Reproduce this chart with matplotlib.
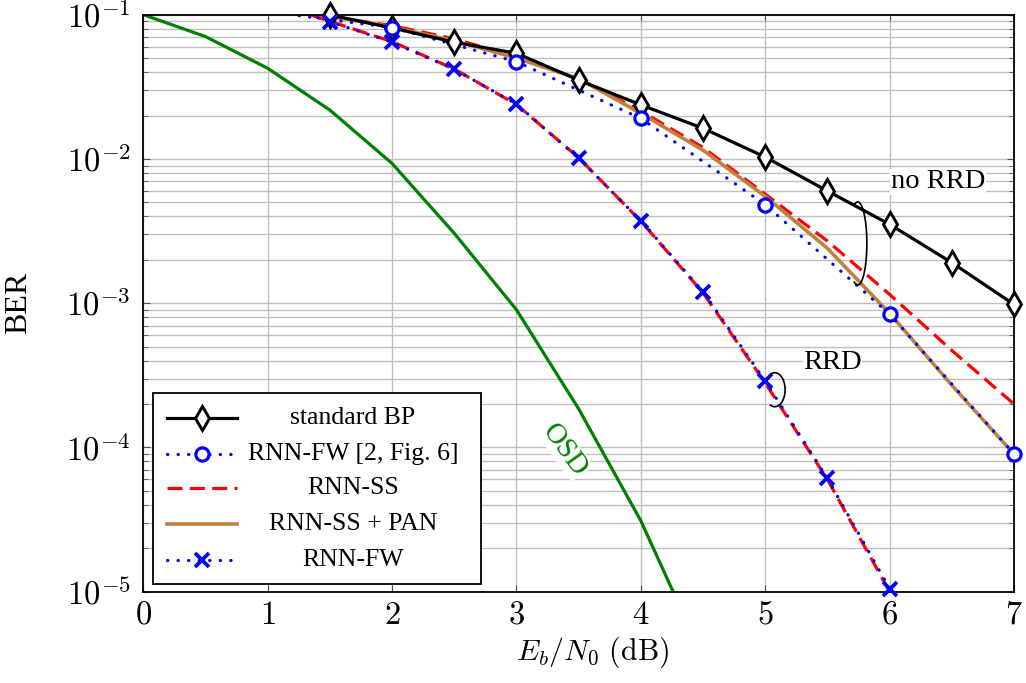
import numpy as np
import matplotlib
matplotlib.use('Agg')
import matplotlib.pyplot as plt
from matplotlib.patches import Rectangle
from matplotlib.lines import Line2D
from matplotlib.ticker import FuncFormatter, LogLocator, NullFormatter

plt.rcParams['font.family'] = ['Liberation Serif', 'DejaVu Serif']
plt.rcParams['mathtext.fontset'] = 'cm'

# ---- data (BER vs Eb/N0) ----
ebn0_bp = [1.5, 2, 2.5, 3, 3.5, 4, 4.5, 5, 5.5, 6, 6.5, 7]
ber_bp = [0.0995, 0.081, 0.0644, 0.054, 0.0352, 0.0237, 0.0163, 0.0103, 0.0060, 0.00352, 0.00191, 0.00098]

ebn0_fw_ref = [1, 2, 3, 4, 5, 6, 7]
ber_fw_ref = [0.105, 0.0813, 0.0472, 0.0191, 0.00482, 0.00084, 9.0e-5]

ebn0_ss = [1, 1.5, 2, 2.5, 3, 3.5, 4, 4.5, 5, 5.5, 6, 6.5, 7]
ber_ss = [0.12, 0.097, 0.084, 0.068, 0.051, 0.036, 0.0215, 0.012, 0.0057, 0.0027, 0.00115, 0.00047, 0.0002]

ebn0_pan = [1, 1.5, 2, 2.5, 3, 3.5, 4, 4.5, 5, 5.5, 6, 6.5, 7]
ber_pan = [0.115, 0.098, 0.082, 0.066, 0.050, 0.036, 0.0207, 0.0115, 0.0055, 0.0024, 0.00085, 0.00027, 9.0e-5]

ebn0_fw = [1, 1.5, 2, 2.5, 3, 3.5, 4, 4.5, 5, 5.5, 6]
ber_fw = [0.124, 0.0894, 0.0644, 0.0418, 0.0240, 0.0101, 0.00373, 0.0012, 2.89e-4, 6.1e-5, 1.05e-5]

ebn0_ss_rrd = [1, 1.5, 2, 2.5, 3, 3.5, 4, 4.5, 5, 5.5, 6]
ber_ss_rrd = [0.125, 0.090, 0.065, 0.042, 0.0238, 0.0102, 0.0037, 0.00118, 2.8e-4, 6.0e-5, 1.0e-5]

ebn0_osd = [0, 0.5, 1, 1.5, 2, 2.5, 3, 3.5, 4, 4.5]
ber_osd = [0.1, 0.0705, 0.0425, 0.0218, 0.0093, 0.00305, 9.0e-4, 1.85e-4, 3.1e-5, 3.5e-6]

blue = '#0000ff'
red = '#ff0000'
brown = '#bf8040'
green = '#008000'
dots = (0, (0.1, 3.2))
dashes = (0, (4.7, 2.3))
LW = 2.3

fig = plt.figure(figsize=(10.26, 6.83), dpi=100)
ax = fig.add_axes([0.1397, 0.1337, 0.8486, 0.8448])
ax.set_yscale('log')
ax.set_xlim(0, 7)
ax.set_ylim(1e-5, 1e-1)

# OSD
ax.plot(ebn0_osd, ber_osd, color=green, lw=LW)

# upper group (no RRD)
ax.plot(ebn0_ss, ber_ss, color=red, lw=LW, ls=dashes)
ax.plot(ebn0_pan, ber_pan, color=brown, lw=2.6)
ax.plot(ebn0_fw_ref, ber_fw_ref, color=blue, lw=LW, ls=dots, dash_capstyle='round')
ax.plot(ebn0_bp, ber_bp, color='k', lw=LW)

# lower group (RRD)
ax.plot(ebn0_ss_rrd, ber_ss_rrd, color=red, lw=LW, ls=dashes)
ax.plot(ebn0_fw, ber_fw, color=blue, lw=LW, ls=dots, dash_capstyle='round')

# markers (not clipped, like pgfplots)
mk_bp = dict(marker='d', ms=12, mew=2.1, mfc='white', mec='k')
mk_ref = dict(marker='o', ms=9.5, mew=2.3, mfc='white', mec=blue)
mk_fw = dict(marker='x', ms=9.5, mew=2.7, mec=blue)
ax.plot(ebn0_bp, ber_bp, ls='none', clip_on=False, zorder=4, **mk_bp)
ax.plot(ebn0_fw_ref[1:], ber_fw_ref[1:], ls='none', clip_on=False, zorder=4, **mk_ref)
ax.plot(ebn0_fw[1:], ber_fw[1:], ls='none', clip_on=False, zorder=4, **mk_fw)

# grid and ticks
ax.yaxis.set_major_locator(LogLocator(base=10, numticks=10))
ax.yaxis.set_minor_locator(LogLocator(base=10, subs=np.arange(2, 10), numticks=10))
ax.yaxis.set_minor_formatter(NullFormatter())
ax.yaxis.set_major_formatter(FuncFormatter(lambda v, p: r'$10^{%d}$' % round(np.log10(v))))
ax.set_xticks(range(0, 8))
ax.xaxis.set_major_formatter(FuncFormatter(lambda v, p: r'$%d$' % v))
ax.grid(True, which='major', color='#bfbfbf', lw=1.0)
ax.grid(True, which='minor', axis='y', color='#bfbfbf', lw=1.0)
ax.set_axisbelow(True)
ax.tick_params(which='both', direction='in', top=True, right=True, color='#505050')
ax.tick_params(which='major', length=5, width=0.8)
ax.tick_params(which='minor', length=3.5, width=0.6)
ax.tick_params(axis='y', labelsize=23.5, pad=9)
ax.tick_params(axis='x', labelsize=23.5, pad=6)
for s in ax.spines.values():
    s.set_linewidth(1.3)

ax.set_xlabel(r'$E_b/N_0\ \mathrm{(dB)}$', fontsize=21.5)
ax.xaxis.set_label_coords(0.516, -0.075)
ax.set_ylabel('BER', fontsize=23)
ax.yaxis.set_label_coords(-0.127, 0.5)

# annotations
ax.text(0.4842, 0.2456, 'OSD', transform=ax.transAxes, rotation=-54, color=green, fontsize=21,
        ha='center', va='center', bbox=dict(fc='white', ec='none', pad=0.5), zorder=3)
ax.text(0.9127, 0.7106, 'no RRD', transform=ax.transAxes, fontsize=20.5,
        ha='center', va='center', bbox=dict(fc='white', ec='none', pad=0.5), zorder=3)
ax.text(0.7915, 0.3976, 'RRD', transform=ax.transAxes, fontsize=20.5,
        ha='center', va='center', bbox=dict(fc='white', ec='none', pad=0.5), zorder=3)


def brace(cx, cy, a, b, span):
    t = np.radians(np.linspace(-span, span, 80))
    ax.add_line(Line2D(cx + a * np.cos(t), cy + b * np.sin(t), transform=ax.transAxes,
                       color='k', lw=1.2, zorder=5))


brace(0.8205, 0.6035, 0.0105, 0.072, 112)
brace(0.7253, 0.350, 0.0118, 0.0295, 115)

# legend drawn by hand so texts can be centred like pgfplots
ax.add_patch(Rectangle((0.0115, 0.0133), 0.3759, 0.3307, transform=ax.transAxes,
                       fc='white', ec='k', lw=1.3, zorder=6))
entries = [
    ('standard BP', dict(color='k', lw=LW), mk_bp),
    ('RNN-FW [2, Fig. 6]', dict(color=blue, lw=LW, ls=dots, dash_capstyle='round'), mk_ref),
    ('RNN-SS', dict(color=red, lw=LW, ls=dashes), None),
    ('RNN-SS + PAN', dict(color=brown, lw=2.6), None),
    ('RNN-FW', dict(color=blue, lw=LW, ls=dots, dash_capstyle='round'), mk_fw),
]
rows = [0.301, 0.2387, 0.1797, 0.1171, 0.055]
for (label, lstyle, mstyle), yy in zip(entries, rows):
    ax.add_line(Line2D([0.0272, 0.1076], [yy, yy], transform=ax.transAxes, zorder=7, **lstyle))
    if mstyle:
        ax.add_line(Line2D([0.0674], [yy], transform=ax.transAxes, ls='none', zorder=8, **mstyle))
    ax.text(0.2407, yy, label, transform=ax.transAxes, fontsize=18.5, ha='center', va='center', zorder=8)

fig.savefig('out.png', dpi=100)
